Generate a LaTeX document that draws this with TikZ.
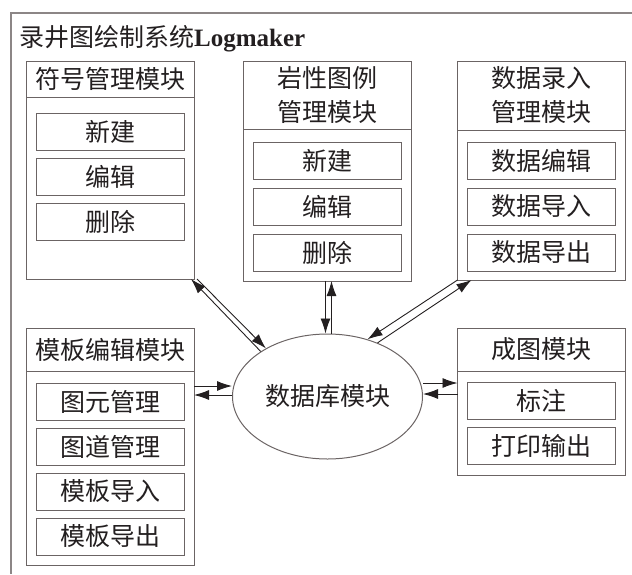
\documentclass[tikz,border=0pt]{standalone}
\usepackage{fontspec}
\setmainfont{Liberation Serif}
\newfontfamily\cjk{Noto Sans CJK SC}
\usetikzlibrary{shapes.geometric, arrows.meta, positioning}
\definecolor{logLine}{HTML}{6B6464}
\definecolor{logFrame}{HTML}{8C8686}
\definecolor{logInk}{HTML}{231F20}

\begin{document}
\begin{tikzpicture}[x=1pt, y=-1pt,
    font=\cjk\fontsize{25}{34}\selectfont, text=logInk,
    head/.style={draw=logLine, line width=1pt, minimum width=168pt, inner sep=0pt, outer sep=0pt, align=center, anchor=north},
    body/.style={draw=logLine, line width=1pt, minimum width=168pt, inner sep=0pt, outer sep=0pt},
    item/.style={draw=logLine, line width=1pt, minimum width=148pt, minimum height=37pt, inner sep=0pt, outer sep=0pt},
    link/.style={draw=logInk, line width=0.9pt, -{Latex[length=15pt, width=10pt]}}]
  \useasboundingbox (0,0) rectangle (632,574);
  \draw[logFrame, line width=1.2pt] (632,13) -| (11,574);
  \node[anchor=west, inner sep=0pt] (title) at (19,39) {录井图绘制系统\rmfamily\bfseries Logmaker};

  % symbol module
  \node[head, minimum height=36pt] (symHead) at (110,61) {符号管理模块};
  \node[body, minimum height=182pt, below=0pt of symHead] (sym) {};
  \node[item, below=16pt of symHead] (symNew) {新建};
  \node[item, below=8pt of symNew] (symEdit) {编辑};
  \node[item, below=8pt of symEdit] (symDel) {删除};

  % lithology legend module
  \node[head, minimum height=68pt] (lithHead) at (327.5,61) {岩性图例\\管理模块};
  \node[body, minimum height=152pt, below=0pt of lithHead] (lith) {};
  \node[item, below=13pt of lithHead] (lithNew) {新建};
  \node[item, below=9pt of lithNew] (lithEdit) {编辑};
  \node[item, below=9pt of lithEdit] (lithDel) {删除};

  % data input module
  \node[head, minimum height=69pt] (dataHead) at (541.5,61) {数据录入\\管理模块};
  \node[body, minimum height=150pt, below=0pt of dataHead] (data) {};
  \node[item, below=12pt of dataHead] (dataEdit) {数据编辑};
  \node[item, below=9pt of dataEdit] (dataIn) {数据导入};
  \node[item, below=9pt of dataIn] (dataOut) {数据导出};

  % template module
  \node[head, minimum height=43pt] (tplHead) at (110,328) {模板编辑模块};
  \node[body, minimum height=194pt, below=0pt of tplHead] (tpl) {};
  \node[item, below=12pt of tplHead] (tplElem) {图元管理};
  \node[item, below=8pt of tplElem] (tplTrack) {图道管理};
  \node[item, below=8pt of tplTrack] (tplIn) {模板导入};
  \node[item, below=8pt of tplIn] (tplOut) {模板导出};

  % mapping module
  \node[head, minimum height=43pt] (mapHead) at (541.5,328) {成图模块};
  \node[body, minimum height=104pt, below=0pt of mapHead] (map) {};
  \node[item, below=11pt of mapHead] (mapMark) {标注};
  \node[item, below=8pt of mapMark] (mapPrint) {打印输出};

  % database
  \node[ellipse, draw=logLine, line width=1pt, minimum width=190pt, minimum height=125pt, inner sep=0pt] (db) at (327.5,396.5) {数据库模块};

  % links to the database
  \draw[link] (db.146) -- ([xshift=-3pt]sym.south east);
  \draw[link] ([xshift=3pt]sym.south east) -- (db.142);
  \draw[link] ([xshift=-2pt]lith.south) -- ([xshift=-2pt]db.north);
  \draw[link] ([xshift=4pt]db.north) -- ([xshift=4pt]lith.south);
  \draw[link] (data.south west) -- (db.55);
  \draw[link] (db.47) -- ([xshift=14pt]data.south west);
  \draw[link] (tpl.east |- 0,386) -- (db.west |- 0,386);
  \draw[link] (db.west |- 0,395) -- (tpl.east |- 0,395);
  \draw[link] (db.east |- 0,383) -- (map.west |- 0,383);
  \draw[link] (map.west |- 0,394) -- (db.east |- 0,394);
\end{tikzpicture}
\end{document}
